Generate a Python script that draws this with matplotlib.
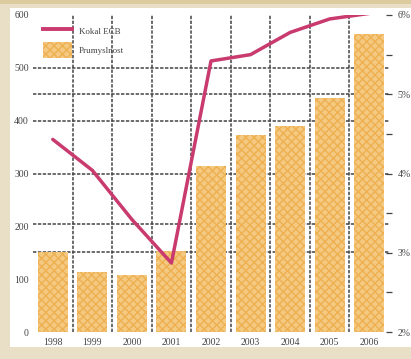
import matplotlib
matplotlib.use("Agg")
import matplotlib.pyplot as plt
from matplotlib.patches import Rectangle
from matplotlib.lines import Line2D
from matplotlib.patches import Patch

# data
years = ["1998", "1999", "2000", "2001", "2002", "2003", "2004", "2005", "2006"]
bar_vals = [152, 114, 107, 154, 314, 373, 390, 442, 564]
rate_vals = [4.43, 4.04, 3.42, 2.87, 5.42, 5.50, 5.78, 5.95, 6.02]
left_ticks = [0, 100, 200, 300, 400, 500, 600]
right_ticks = [2, 3, 4, 5, 6]
right_labels = ["2%", "3%", "4%", "5%", "6%"]
legend_labels = ["Kokal ECB", "Prumyslnost"]

plt.rcParams["font.family"] = ["Liberation Serif", "DejaVu Serif"]
plt.rcParams["hatch.linewidth"] = 1.0

W, H = 411, 359
fig = plt.figure(figsize=(W / 100, H / 100), dpi=100, facecolor="#e9dfc6")
# white panel inside the beige frame
fig.patches.append(Rectangle((10 / W, 12 / H), 1 - 10 / W, 1 - 20 / H,
                             transform=fig.transFigure, facecolor="white",
                             edgecolor="none", zorder=-2))
fig.patches.append(Rectangle((0, 1 - 4 / H), 1, 4 / H, transform=fig.transFigure,
                             facecolor="#dccb9f", edgecolor="none", zorder=-2))

ax = fig.add_axes([33 / W, 1 - 332 / H, (389 - 33) / W, (332 - 15) / H])
ax.set_facecolor("none")
x = range(len(years))

bar_face = "#f4c982"
bar_hatch = "#eeb050"

# grid lines
for g in [500, 450, 400, 300, 205, 152]:
    ax.axhline(g, color="#444444", lw=1.1, ls=(0, (2.2, 1.0)), zorder=0.5)
for i in range(len(years) - 1):
    ax.axvline(i + 0.5, color="#444444", lw=1.1, ls=(0, (2.2, 1.0)), zorder=0.5)

ax.bar(x, bar_vals, width=0.76, facecolor=bar_face, edgecolor=bar_hatch,
       hatch="xxxx", linewidth=0, zorder=2)
ax.set_xlim(-0.5, len(years) - 0.5)
ax.set_ylim(0, 600)
ax.set_yticks(left_ticks)
ax.set_xticks(list(x))
ax.set_xticklabels(years)
ax.tick_params(axis="both", length=0, labelsize=7, labelcolor="#444444")
ax.tick_params(axis="y", pad=3)
ax.tick_params(axis="x", pad=4)
for s in ax.spines.values():
    s.set_visible(False)

ax2 = ax.twinx()
ax2.plot(x, rate_vals, color="#c93a6e", lw=2.5, solid_capstyle="round", zorder=5)
ax2.set_ylim(2, 6)
ax2.set_yticks(right_ticks)
ax2.set_yticklabels(right_labels)
ax2.set_yticks([2.5, 3.5, 4.5, 5.5], minor=True)
ax2.tick_params(axis="y", which="both", length=4, width=0.9, color="#444444",
                direction="inout", labelsize=7, labelcolor="#444444", pad=4)
for s in ax2.spines.values():
    s.set_visible(False)

handles = [Line2D([], [], color="#c93a6e", lw=2.8),
           Patch(facecolor=bar_face, edgecolor=bar_hatch, hatch="xxxx", linewidth=0)]
leg = ax2.legend(handles, legend_labels, loc="upper left",
                 bbox_to_anchor=(0.005, 1.0), frameon=False, fontsize=6.5,
                 handlelength=3.2, handleheight=2.4, labelspacing=0.3,
                 handletextpad=0.8)
for t in leg.get_texts():
    t.set_color("#444444")

fig.savefig("out.png", dpi=100, facecolor=fig.get_facecolor())
